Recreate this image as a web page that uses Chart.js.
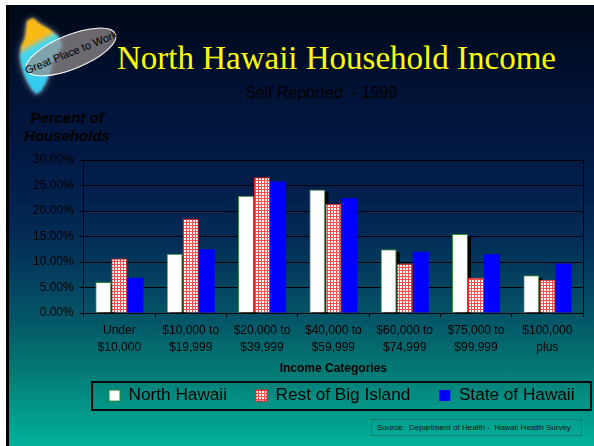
<!DOCTYPE html>
<html><head><meta charset="utf-8">
<script src="https://cdn.jsdelivr.net/npm/chart.js@4.4.1/dist/chart.umd.min.js"></script>
<style>
html,body{margin:0;padding:0;background:#fff;width:594px;height:446px;overflow:hidden;position:relative;}
#slide{position:absolute;left:6px;top:5px;width:585px;height:441px;border-left:3px solid #000;
 background:linear-gradient(to bottom,#000816 0%,#011236 20%,#021a46 36%,#032a56 52%,#04405f 62%,#045868 72%,#047a74 83%,#00b29c 100%);}
#logo{position:absolute;left:0;top:0;}
#title{position:absolute;left:117px;top:40px;font-family:'Liberation Serif','Times New Roman',serif;font-size:33px;line-height:36px;color:#ffff00;white-space:nowrap;}
#subtitle{position:absolute;left:245px;top:84px;font-family:'Liberation Sans',Arial,sans-serif;font-size:16px;line-height:18px;color:#000;white-space:pre;}
#ylab{position:absolute;left:17px;top:109px;width:100px;text-align:center;font-family:'Liberation Sans',Arial,sans-serif;font-size:15px;line-height:18px;font-weight:bold;font-style:italic;color:#000;}
#legendBox{position:absolute;left:91px;top:381px;width:501px;height:30px;box-sizing:border-box;border:2px solid #0a0a0a;}
#source{position:absolute;left:371px;top:419px;width:211px;height:17px;box-sizing:border-box;border:1px solid #1d7a72;padding-left:5px;font-family:'Liberation Sans',Arial,sans-serif;font-size:8px;line-height:15px;color:#111;white-space:pre;}
#c{position:absolute;left:0;top:0;}
</style></head><body>
<div id="slide"></div>
<svg id="logo" width="130" height="105" viewBox="0 0 130 105">
 <defs>
  <filter id="glow" x="-50%" y="-50%" width="200%" height="200%"><feGaussianBlur stdDeviation="3"/></filter>
  <filter id="soft"><feGaussianBlur stdDeviation="0.8"/></filter>
  <linearGradient id="isl" x1="0" y1="0" x2="0.3" y2="1">
   <stop offset="0" stop-color="#fbb917"/><stop offset="0.36" stop-color="#fbb917"/>
   <stop offset="0.46" stop-color="#45d6ee"/><stop offset="1" stop-color="#2fc8ef"/>
  </linearGradient>
 </defs>
 <path d="M27,21 L33,18 L40,24 L49,29 L58,36 L62,45 L57,54 L52,62 L50,72 L46,82 L41,91 L36,94 L31,88 L26,79 L22,68 L20,57 L21,47 L25,38 L26,30 Z" fill="#ffffff" opacity="0.6" filter="url(#glow)"/>
 <path d="M27,21 L33,18 L40,24 L49,29 L58,36 L62,45 L57,54 L52,62 L50,72 L46,82 L41,91 L36,94 L31,88 L26,79 L22,68 L20,57 L21,47 L25,38 L26,30 Z" fill="url(#isl)" filter="url(#soft)"/>
 <ellipse cx="71" cy="52" rx="48" ry="17" transform="rotate(-22 71 52)" fill="#9a9090" fill-opacity="0.7" stroke="#ffffff" stroke-width="1"/>
 <text x="71" y="52" transform="rotate(-22 71 52)" font-family="Liberation Sans, Arial, sans-serif" font-size="11" text-anchor="middle" dominant-baseline="central" fill="#000">Great Place to Work</text>
</svg>
<div id="title">North Hawaii Household Income</div>
<div id="subtitle">Self Reported  - 1999</div>
<div id="ylab">Percent of<br>Households</div>
<div id="legendBox"></div>
<div id="source">Source:  Department of Health -  Hawaii Health Survey</div>
<canvas id="c" width="594" height="446"></canvas>
<script>
// ---- data ----
const categories = [
  ["Under", "$10,000"],
  ["$10,000 to", "$19,999"],
  ["$20,000 to", "$39,999"],
  ["$40,000 to", "$59,999"],
  ["$60,000 to", "$74,999"],
  ["$75,000 to", "$99,999"],
  ["$100,000", "plus"]
];
const seriesNames = ["North Hawaii", "Rest of Big Island", "State of Hawaii"];
const northHawaii     = [6.1, 11.6, 23.0, 24.2, 12.5, 15.5, 7.4];
const restOfBigIsland = [10.7, 18.5, 26.6, 21.4, 9.7, 6.9, 6.5];
const stateOfHawaii   = [6.9, 12.5, 25.8, 22.5, 12.0, 11.5, 9.7];
const yMin = 0, yMax = 30, yStep = 5;
const xTitle = "Income Categories";

// ---- chart ----
Chart.defaults.font.family = "'Liberation Sans', Arial, sans-serif";
Chart.defaults.color = '#000';
const canvas = document.getElementById('c');
const ctx = canvas.getContext('2d');

const pc = document.createElement('canvas');
pc.width = 3; pc.height = 3;
const pg = pc.getContext('2d');
pg.fillStyle = '#ffffff'; pg.fillRect(0, 0, 3, 3);
pg.fillStyle = '#ff4c4c'; pg.fillRect(0, 0, 3, 1); pg.fillRect(0, 0, 1, 3);
const gridPattern = ctx.createPattern(pc, 'repeat');

const nhShadow = {
  id: 'nhShadow',
  beforeDatasetsDraw(chart) {
    const {ctx, chartArea: a} = chart;
    const meta = chart.getDatasetMeta(0);
    ctx.save();
    ctx.beginPath(); ctx.rect(a.left, a.top, a.width, a.height); ctx.clip();
    ctx.fillStyle = '#000';
    meta.data.forEach(b => {
      const p = b.getProps(['x', 'y', 'base', 'width'], true);
      ctx.fillRect(p.x - p.width / 2 + 3, p.y + 3, p.width, p.base - p.y);
    });
    ctx.restore();
    ctx.save();
    ctx.strokeStyle = '#000'; ctx.lineWidth = 1;
    const rx = Math.round(a.right) + 0.5;
    ctx.beginPath(); ctx.moveTo(rx, a.top); ctx.lineTo(rx, a.bottom + 4); ctx.stroke();
    ctx.restore();
  }
};

const legendShift = {
  id: 'legendShift',
  afterUpdate(chart) {
    const lg = chart.legend;
    if (!lg || !lg.legendHitBoxes || !lg.legendHitBoxes.length) return;
    const hb = lg.legendHitBoxes[0];
    const dx = 109 - hb.left, dy = 387 - hb.top;
    lg.left += dx; lg.right += dx; lg.top += dy; lg.bottom += dy;
    lg.legendHitBoxes.forEach(h => { h.left += dx; h.top += dy; });
  }
};

new Chart(ctx, {
  type: 'bar',
  data: {
    labels: categories,
    datasets: [
      { label: seriesNames[0], data: northHawaii, backgroundColor: '#ffffff', borderColor: '#2f8a2f', borderWidth: 1 },
      { label: seriesNames[1], data: restOfBigIsland, backgroundColor: gridPattern, borderColor: '#ff1a1a', borderWidth: 1 },
      { label: seriesNames[2], data: stateOfHawaii, backgroundColor: '#0000ff', borderColor: '#0000ff', borderWidth: 0 }
    ]
  },
  options: {
    responsive: false,
    animation: false,
    events: [],
    categoryPercentage: 0.675,
    barPercentage: 1.0,
    layout: { padding: { top: 160, left: 27, right: 11, bottom: 10 } },
    scales: {
      x: {
        grid: { display: true, drawOnChartArea: false, drawTicks: true, tickLength: 4, color: '#000', offset: true },
        border: { display: true, color: '#000', width: 1 },
        ticks: { font: { size: 12, lineHeight: 1.35 }, color: '#000', padding: 6, maxRotation: 0, autoSkip: false },
        title: { display: true, text: xTitle, font: { size: 12, weight: 'bold' }, color: '#000', padding: { top: 0, bottom: 4 } }
      },
      y: {
        min: yMin, max: yMax,
        ticks: { stepSize: yStep, callback: v => Number(v).toFixed(2) + '%', font: { size: 12 }, color: '#000', padding: 6 },
        grid: { color: '#000', tickLength: 4, drawTicks: true, lineWidth: 1 },
        border: { display: true, color: '#000', width: 1 }
      }
    },
    plugins: {
      title: { display: false },
      tooltip: { enabled: false },
      legend: {
        position: 'bottom',
        fullSize: true,
        labels: { boxWidth: 11, boxHeight: 11, padding: 29, font: { size: 17.2 }, color: '#000' }
      }
    }
  },
  plugins: [nhShadow, legendShift]
});
</script>
</body></html>
